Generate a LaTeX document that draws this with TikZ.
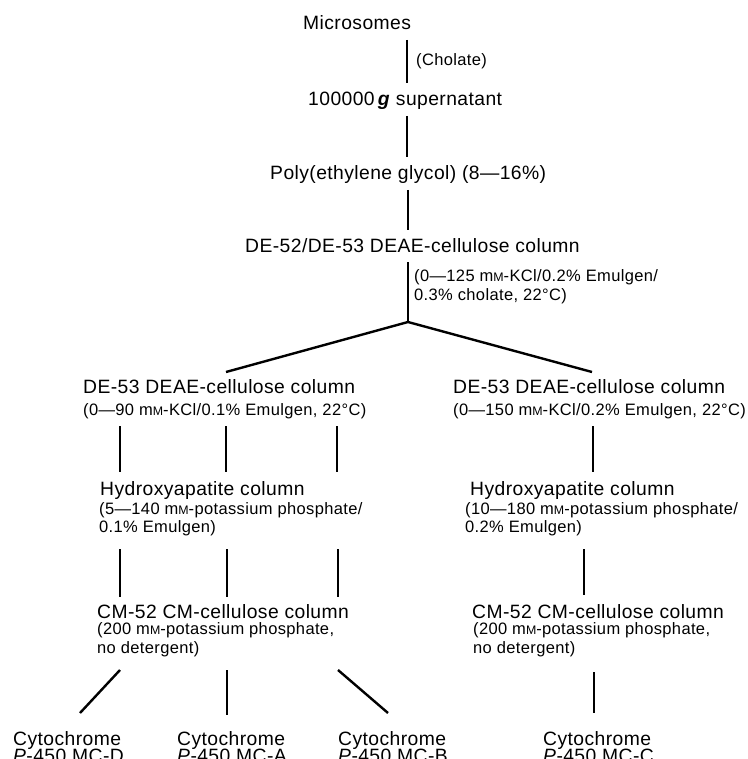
\documentclass[tikz,border=0pt]{standalone}
\usepackage{fontspec}
\setmainfont[LetterSpace=2.2]{Liberation Sans}
\newcommand{\mMu}{m\scalebox{0.75}{M}}
\begin{document}
\begin{tikzpicture}[x=1pt,y=-1pt,
  big/.style={inner sep=0pt,font=\fontsize{19.3}{22}\selectfont,anchor=base west},
  cyto/.style={inner sep=0pt,font=\fontsize{19.3}{17.5}\selectfont,anchor=base west,align=left},
  small/.style={inner sep=0pt,font=\fontsize{16.5}{18.5}\selectfont,anchor=base west,align=left},
  ln/.style={line width=2.4pt}]
\useasboundingbox (0,0) rectangle (747,759);
% top chain (multi-line nodes are placed at the baseline of their last line)
\node[big] (micro) at (303,29.5) {Microsomes};
\node[small] (chol) at (416,66) {(Cholate)};
\node[big] (sup) at (308,106) {100000\,\textbf{\textit{g}} supernatant};
\node[big] (peg) at (270,180) {Poly(ethylene glycol) (8---16\%)};
\node[big] (de52) at (245,252) {DE-52/DE-53 DEAE-cellulose column};
\node[small] (cond1) at (414,300) {(0---125 \mMu-KCl/0.2\% Emulgen/\\0.3\% cholate, 22°C)};
% connectors top
\coordinate (m1) at (407,40); \coordinate (m2) at (407,83);
\coordinate (s1) at (407,116); \coordinate (s2) at (407,157);
\coordinate (p1) at (408,190); \coordinate (p2) at (408,230);
\coordinate (d1) at (408,262); \coordinate (apex) at (408,322);
\coordinate (la) at (226,372); \coordinate (ra) at (592,372);
\draw[ln] (m1) -- (m2);
\draw[ln] (s1) -- (s2);
\draw[ln] (p1) -- (p2);
\draw[ln] (d1) -- (apex);
\draw[ln] (la) -- (apex) -- (ra);
% left branch
\node[big] (lde) at (83,393) {DE-53 DEAE-cellulose column};
\node[small] (lcond) at (83,415) {(0---90 \mMu-KCl/0.1\% Emulgen, 22°C)};
\node[big] (lhyd) at (100,495) {Hydroxyapatite column};
\node[small] (lhcond) at (99,532.5) {(5---140 \mMu-potassium phosphate/\\0.1\% Emulgen)};
\node[big] (lcm) at (97,618) {CM-52 CM-cellulose column};
\node[small] (lcmcond) at (97,653) {(200 \mMu-potassium phosphate,\\no detergent)};
\node[cyto] (cyD) at (13,762.5) {Cytochrome\\\textit{P}-450 MC-D};
\node[cyto] (cyA) at (177,762.5) {Cytochrome\\\textit{P}-450 MC-A};
\node[cyto] (cyB) at (338,762.5) {Cytochrome\\\textit{P}-450 MC-B};
\foreach \xx/\nm in {120/a,226/b,337/c}{
  \coordinate (l1\nm) at (\xx,426); \coordinate (l2\nm) at (\xx,472);
  \draw[ln] (l1\nm) -- (l2\nm);}
\foreach \xx/\nm in {120/a,227/b,338/c}{
  \coordinate (h1\nm) at (\xx,549); \coordinate (h2\nm) at (\xx,597);
  \draw[ln] (h1\nm) -- (h2\nm);}
\coordinate (c1a) at (120,670); \coordinate (c2a) at (80,713);
\coordinate (c1b) at (227,670); \coordinate (c2b) at (227,715);
\coordinate (c1c) at (338,670); \coordinate (c2c) at (388,713);
\draw[ln] (c1a) -- (c2a);
\draw[ln] (c1b) -- (c2b);
\draw[ln] (c1c) -- (c2c);
% right branch
\node[big] (rde) at (453,393) {DE-53 DEAE-cellulose column};
\node[small] (rcond) at (453,415) {(0---150 \mMu-KCl/0.2\% Emulgen, 22°C)};
\node[big] (rhyd) at (470,495) {Hydroxyapatite column};
\node[small] (rhcond) at (465,532.5) {(10---180 \mMu-potassium phosphate/\\0.2\% Emulgen)};
\node[big] (rcm) at (472,618) {CM-52 CM-cellulose column};
\node[small] (rcmcond) at (473,653) {(200 \mMu-potassium phosphate,\\no detergent)};
\node[cyto] (cyC) at (543,762.5) {Cytochrome\\\textit{P}-450 MC-C};
\coordinate (r1) at (593,426); \coordinate (r2) at (593,472);
\coordinate (r3) at (584,549); \coordinate (r4) at (584,595);
\coordinate (r5) at (594,672); \coordinate (r6) at (594,713);
\draw[ln] (r1) -- (r2);
\draw[ln] (r3) -- (r4);
\draw[ln] (r5) -- (r6);
\end{tikzpicture}
\end{document}
